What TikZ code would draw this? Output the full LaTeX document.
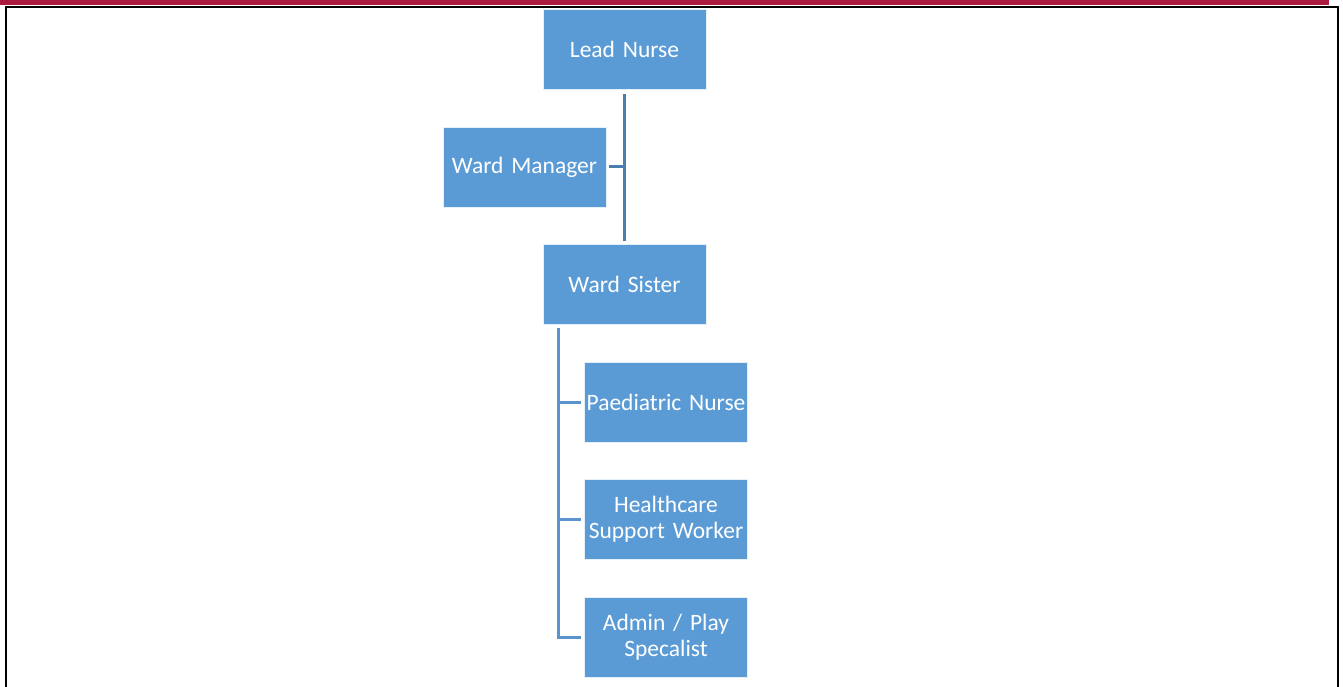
\documentclass[tikz,border=0pt]{standalone}
\usepackage{fontspec}
\setmainfont{Carlito}[WordSpace={0.85,0,0}]
\definecolor{boxblue}{HTML}{5B9BD5}
\definecolor{lineA}{HTML}{4A7EB0}
\definecolor{lineB}{HTML}{5B93CC}
\definecolor{barred}{HTML}{AC1A3F}
\begin{document}
\begin{tikzpicture}[x=1pt,y=-1pt,
  orgbox/.style={fill=boxblue, draw=white!85!boxblue, line width=0.8pt,
    minimum width=163pt, minimum height=80pt, text width=163pt, inner sep=0pt,
    align=center, text=white, font=\fontsize{23.5}{26}\selectfont},
  linkA/.style={draw=lineA, line width=3pt},
  linkB/.style={draw=lineB, line width=3pt}]
\useasboundingbox (0,0) rectangle (1343,687);
\fill[white] (0,0) rectangle (1343,687);
% header bar and frame
\fill[barred] (0,0) rectangle (1329,5.5);
\draw[black, line width=2.5pt] (6,687) -- (6,7) -- (1338,7) -- (1338,687);
% nodes
\node[orgbox] (lead) at (624.5,49.5) {\raisebox{-1.5pt}{Lead Nurse}};
\node[orgbox] (mgr) at (524.5,167) {\raisebox{-1.5pt}{Ward Manager}};
\node[orgbox] (sister) at (624.5,284.5) {\raisebox{-1.5pt}{Ward Sister}};
\node[orgbox] (paed) at (666,402) {\raisebox{-1.5pt}{Paediatric Nurse}};
\node[orgbox] (hcsw) at (666,519.5) {Healthcare\\Support Worker};
\node[orgbox] (admin) at (666,637) {Admin / Play\\Specalist};
% connectors
\coordinate (top) at ([yshift=-4pt]lead.south);
\coordinate (bot) at ([yshift=3pt]sister.north);
\draw[linkA] (top) -- (bot);
\draw[linkA] ([xshift=3pt]mgr.east) -- (mgr.east -| top);
\coordinate (trunk) at ([xshift=-66.5pt,yshift=-3pt]sister.south);
\draw[linkB] (trunk) -- (trunk |- admin.west) -- ([xshift=-3pt]admin.west);
\draw[linkB] (trunk |- paed.west) -- ([xshift=-3pt]paed.west);
\draw[linkB] (trunk |- hcsw.west) -- ([xshift=-3pt]hcsw.west);
\end{tikzpicture}
\end{document}
